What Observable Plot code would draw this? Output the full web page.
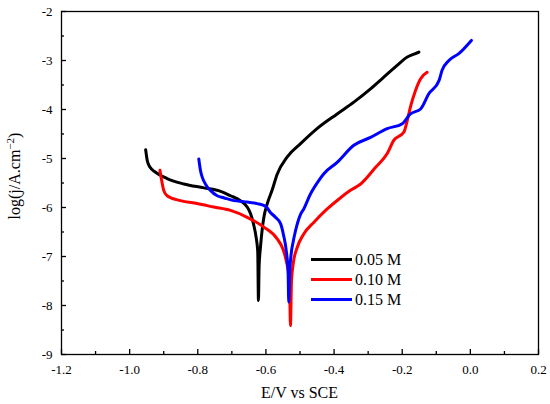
<!DOCTYPE html>
<html>
<head>
<meta charset="utf-8">
<script src="https://cdn.jsdelivr.net/npm/d3@7"></script>
<script src="https://cdn.jsdelivr.net/npm/@observablehq/plot@0.6"></script>
<style>
  html, body { margin: 0; padding: 0; background: #fff; }
  #chart { position: relative; width: 550px; height: 404px; }
  #chart svg, #chart svg text { font-family: 'Liberation Serif', serif; }
</style>
</head>
<body>
<div id="chart"></div>
<script>
// ---- data ----
const seriesNames = ["0.05 M", "0.10 M", "0.15 M"];
const seriesColors = ["#000000", "#ff0000", "#0000ff"];

const blackE = [-0.953,-0.948,-0.940,-0.924,-0.890,-0.841,-0.782,-0.733,-0.704,-0.675,-0.655,-0.645,-0.636,-0.629,-0.624,-0.622,-0.620,-0.616,-0.611,-0.606,-0.596,-0.582,-0.567,-0.538,-0.499,-0.450,-0.391,-0.342,-0.293,-0.254,-0.215,-0.185,-0.165,-0.151];
const blackJ = [-4.82,-5.05,-5.18,-5.28,-5.41,-5.52,-5.60,-5.67,-5.76,-5.86,-5.99,-6.13,-6.35,-6.60,-6.90,-7.90,-7.20,-6.81,-6.45,-6.20,-5.92,-5.65,-5.32,-4.97,-4.70,-4.39,-4.09,-3.85,-3.58,-3.34,-3.10,-2.93,-2.87,-2.83];

const redE = [-0.911,-0.906,-0.900,-0.890,-0.851,-0.802,-0.753,-0.704,-0.655,-0.606,-0.567,-0.550,-0.540,-0.533,-0.530,-0.528,-0.525,-0.520,-0.508,-0.489,-0.459,-0.425,-0.381,-0.352,-0.322,-0.278,-0.244,-0.225,-0.195,-0.185,-0.176,-0.161,-0.146,-0.127];
const redJ = [-5.24,-5.45,-5.65,-5.76,-5.86,-5.92,-5.99,-6.06,-6.20,-6.40,-6.64,-6.85,-7.10,-7.40,-7.80,-8.41,-7.50,-7.15,-6.81,-6.54,-6.30,-6.06,-5.80,-5.65,-5.52,-5.18,-4.90,-4.63,-4.46,-4.22,-3.95,-3.61,-3.37,-3.24];

const blueE = [-0.797,-0.792,-0.787,-0.775,-0.763,-0.743,-0.724,-0.694,-0.665,-0.626,-0.600,-0.587,-0.572,-0.557,-0.549,-0.540,-0.535,-0.533,-0.530,-0.526,-0.520,-0.513,-0.499,-0.489,-0.469,-0.445,-0.430,-0.391,-0.342,-0.293,-0.244,-0.200,-0.176,-0.146,-0.122,-0.092,-0.083,-0.063,-0.034,0.003];
const blueJ = [-5.01,-5.25,-5.38,-5.55,-5.65,-5.76,-5.80,-5.86,-5.88,-5.92,-5.98,-6.10,-6.20,-6.33,-6.54,-6.90,-7.30,-7.93,-7.30,-6.95,-6.70,-6.47,-6.15,-6.03,-5.72,-5.45,-5.31,-5.08,-4.73,-4.57,-4.39,-4.29,-4.09,-3.99,-3.68,-3.41,-3.20,-3.00,-2.86,-2.59];

const xTicks = [-1.2,-1.0,-0.8,-0.6,-0.4,-0.2,0.0,0.2];
const xMinorTicks = [-1.1,-0.9,-0.7,-0.5,-0.3,-0.1,0.1];
const yTicks = [-9,-8,-7,-6,-5,-4,-3,-2];
const yMinorTicks = [-8.5,-7.5,-6.5,-5.5,-4.5,-3.5,-2.5];

const xLabel = "E/V vs SCE";

// ---- build table ----
const rows = [];
[[blackE, blackJ], [redE, redJ], [blueE, blueJ]].forEach(([E, J], i) => {
  E.forEach((e, k) => rows.push({series: seriesNames[i], E: e, logj: J[k]}));
});

const font = "'Liberation Serif', serif";

const chart = Plot.plot({
  width: 550,
  height: 404,
  marginLeft: 61,
  marginRight: 12,
  marginTop: 11,
  marginBottom: 50,
  style: {fontFamily: font, fontSize: "13px", background: "#fff", color: "#000", overflow: "visible"},
  x: {domain: [-1.2, 0.2]},
  y: {domain: [-9, -2]},
  color: {domain: seriesNames, range: seriesColors},
  marks: [
    Plot.line(rows, {x: "E", y: "logj", z: "series", stroke: "series", strokeWidth: 3, curve: "monotone-x"}),
    Plot.axisX({ticks: xTicks, tickSize: 0, tickPadding: 10, tickFormat: d => d.toFixed(1), label: null, fontSize: 13, fontFamily: font}),
    Plot.axisX({ticks: xTicks, tickSize: -5, text: null, label: null, strokeWidth: 1.3}),
    Plot.axisX({ticks: xMinorTicks, tickSize: -3, text: null, label: null, strokeWidth: 1.3}),
    Plot.axisY({ticks: yTicks, tickSize: 0, tickPadding: 9, tickFormat: d => String(d), label: null, fontSize: 13, fontFamily: font}),
    Plot.axisY({ticks: yTicks, tickSize: -5, text: null, label: null, strokeWidth: 1.3}),
    Plot.axisY({ticks: yMinorTicks, tickSize: -3, text: null, label: null, strokeWidth: 1.3}),
    Plot.frame({stroke: "#000", strokeWidth: 1.3})
  ]
});

document.getElementById("chart").appendChild(chart);

// ---- titles and legend (layout in pixels) ----
const svg = d3.select(chart);

svg.append("text")
  .attr("x", 299.5).attr("y", 398)
  .attr("text-anchor", "middle")
  .attr("font-family", font).attr("font-size", 16)
  .text(xLabel);

const yl = svg.append("text")
  .attr("transform", "translate(20,176) rotate(-90)")
  .attr("text-anchor", "middle")
  .attr("font-family", font).attr("font-size", 16);
yl.append("tspan").text("log(j/A.cm");
yl.append("tspan").attr("font-size", 11).attr("dy", -6).text("−2");
yl.append("tspan").attr("dy", 6).text(")");

const leg = svg.append("g");
seriesNames.forEach((name, i) => {
  const yy = 259.5 + i * 20;
  leg.append("line")
    .attr("x1", 311).attr("x2", 352).attr("y1", yy).attr("y2", yy)
    .attr("stroke", seriesColors[i]).attr("stroke-width", 3);
  leg.append("text")
    .attr("x", 355).attr("y", yy + 5.5)
    .attr("text-anchor", "start")
    .attr("font-family", font).attr("font-size", 16)
    .text(name);
});
</script>
</body>
</html>
